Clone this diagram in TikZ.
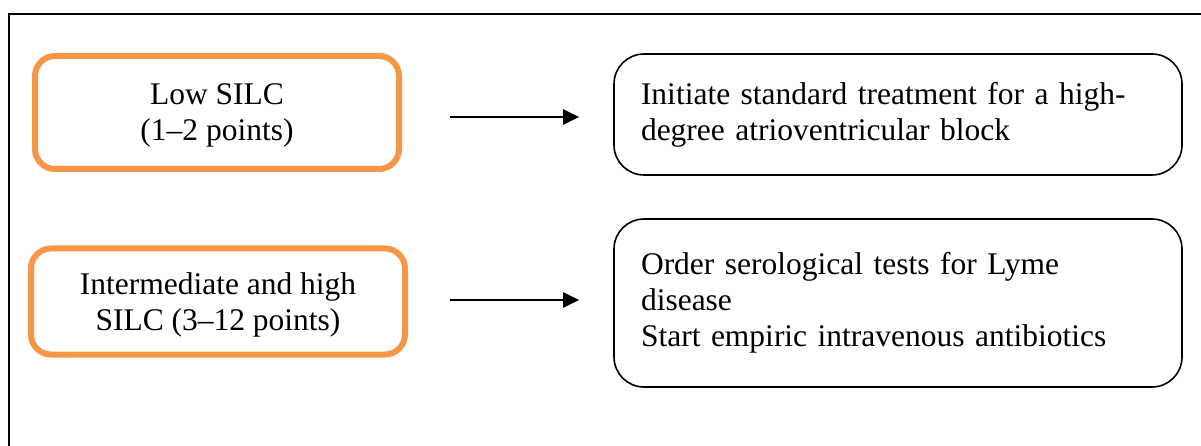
\documentclass[tikz,border=0pt]{standalone}
\usepackage{fontspec}
\setmainfont{Liberation Serif}
\usetikzlibrary{arrows.meta}
\definecolor{silcorange}{HTML}{F79646}

\begin{document}
\begin{tikzpicture}[x=1pt, y=-1pt,
  score/.style = {draw=silcorange, line width=6pt, rounded corners=20pt, align=center,
                  text depth=0pt, font=\fontsize{31.5}{36}\selectfont},
  action/.style = {draw, line width=1.6pt, rounded corners=30pt, align=left, inner xsep=27pt,
                   font=\fontsize{31.5}{36}\selectfont},
  step arrow/.style = {-{Triangle[length=16pt,width=15pt]}, line width=2pt}]
\useasboundingbox (0,0) rectangle (1201,446);
% outer frame (open at right and bottom)
\draw [line width=1.2pt] (9,446) -- (9,14) -- (1201,14);
% scores
\node[score, minimum width=364pt, minimum height=113pt] (low) at (217,112.5) {Low SILC\\(1--2 points)};
\node[score, minimum width=374pt, minimum height=106pt] (high) at (218,301.5) {Intermediate and high\\SILC (3--12 points)};
% actions
\node[action, text width=514pt, minimum height=121pt] (treat) at (898,114.5) {Initiate standard treatment for a high-\\degree atrioventricular block};
\node[action, text width=514pt, minimum height=168pt] (lyme) at (898,303) {Order serological tests for Lyme\\disease\\Start empiric intravenous antibiotics};
\draw [step arrow, shorten <=48pt, shorten >=34pt] ([yshift=-4.5pt]low.east) -- ([yshift=-4.5pt]low.east -| treat.west);
\draw [step arrow, shorten <=42pt, shorten >=34pt] ([yshift=1.5pt]high.east) -- ([yshift=1.5pt]high.east -| lyme.west);
\end{tikzpicture}
\end{document}
